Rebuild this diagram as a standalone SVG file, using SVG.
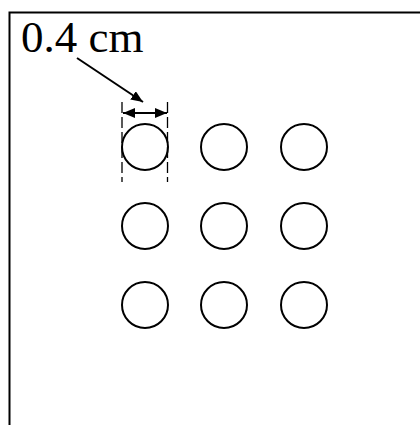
<svg xmlns="http://www.w3.org/2000/svg" width="420" height="425" viewBox="0 0 420 425">
<style>
.hole{fill:none;stroke:#000;stroke-width:2}
.dash{stroke:#000;stroke-width:1.3;stroke-dasharray:11,4;fill:none}
.ln{stroke:#000;stroke-width:2;fill:none}
</style>
<defs>
<marker id="ah" markerWidth="12" markerHeight="10" refX="12" refY="5" orient="auto-start-reverse" markerUnits="userSpaceOnUse" viewBox="0 0 12 10">
<path d="M0,0 L12,5 L0,10 z" fill="#000"/>
</marker>
</defs>
<rect width="420" height="425" fill="#fff"/>
<g id="frame">
<path class="ln" d="M9.5,425 V12.5 H420"/>
</g>
<g id="label">
<text x="21" y="52" font-family="Liberation Serif, serif" font-size="45">0.4 cm</text>
</g>
<g id="connectors">
<line class="dash" x1="122" y1="102" x2="122" y2="182"/>
<line class="dash" x1="167.5" y1="102" x2="167.5" y2="182"/>
<line class="ln" x1="123" y1="113" x2="167" y2="113" marker-start="url(#ah)" marker-end="url(#ah)"/>
<line class="ln" x1="77" y1="58" x2="143" y2="102" marker-end="url(#ah)"/>
</g>
<g id="holes">
<circle id="h11" class="hole" cx="145" cy="147" r="23"/>
<circle id="h12" class="hole" cx="224" cy="147" r="23"/>
<circle id="h13" class="hole" cx="304" cy="147" r="23"/>
<circle id="h21" class="hole" cx="145" cy="226" r="23"/>
<circle id="h22" class="hole" cx="224" cy="226" r="23"/>
<circle id="h23" class="hole" cx="304" cy="226" r="23"/>
<circle id="h31" class="hole" cx="145" cy="305" r="23"/>
<circle id="h32" class="hole" cx="224" cy="305" r="23"/>
<circle id="h33" class="hole" cx="304" cy="305" r="23"/>
</g>
</svg>
